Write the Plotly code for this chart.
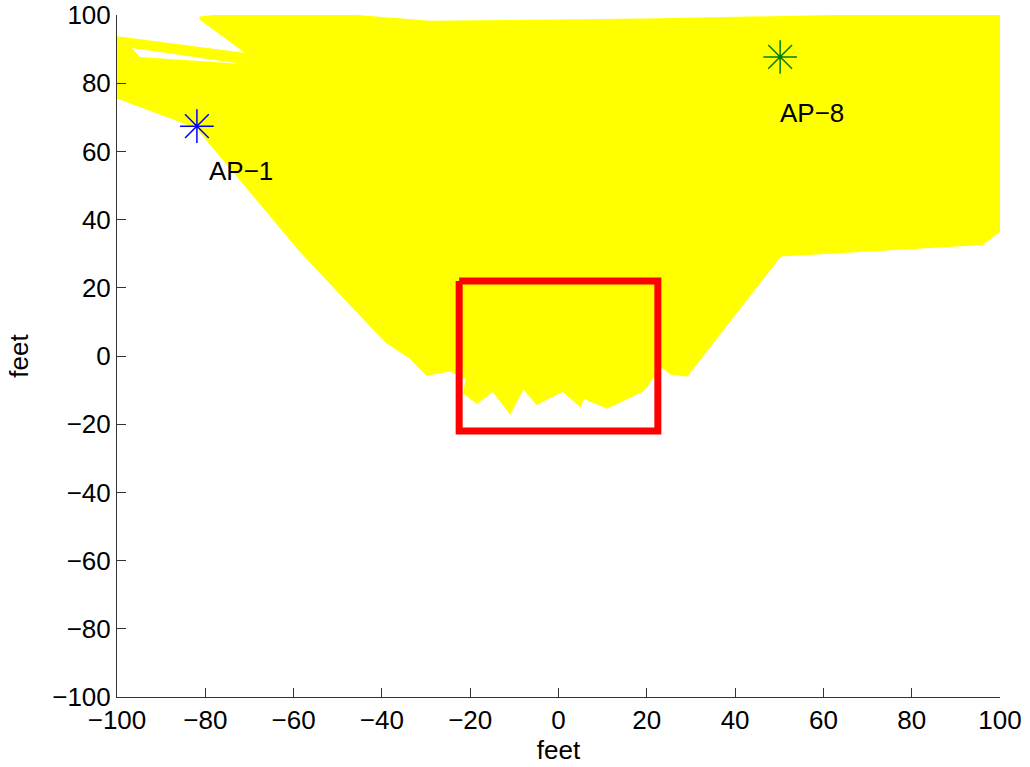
import plotly.graph_objects as go

# ---- data (feet) ----
coverage_x = [-78, -46, -29, 20, 64, 100, 100, 96, 50.2, 29, 25.5, 23.2,
              19.1, 11, 5.5, 4.9, 1, -4.9, -8, -11, -14.8, -18.5, -21.2, -20.7,
              -24.6, -29.8, -33.6, -38.8, -47.2, -58.5, -81.9, -94.8, -100, -100,
              -69.9, -81.2, -78]
coverage_y = [99.6, 99.6, 97.9, 98.5, 99.6, 99.6, 37, 33, 29.6, -5.6, -5.0, -2.8,
              -10, -15, -12, -14.4, -10, -13.8, -9, -16.4, -10, -13.5, -10.9, -6.5,
              -4.1, -5.3, -0.3, 4.1, 15.5, 31.1, 67.2, 73.6, 76, 93.3,
              88.3, 99.1, 99.6]

gap_x = [-96.6, -71.5, -94.8, -96.6]
gap_y = [90.3, 85.6, 87.7, 90.3]

box_x = [-22.5, 22.5, 22.5, -22.5, -22.5]
box_y = [22, 22, -22, -22, 22]

ap_names = ["AP\u22121", "AP\u22128"]
ap_x = [-81.9, 50.2]
ap_y = [67.4, 87.7]
ap_colors = ["#0000ff", "#008000"]
label_x = [-79.6, 49.7]
label_y = [54.3, 71.3]

ticks = [-100, -80, -60, -40, -20, 0, 20, 40, 60, 80, 100]

FONT = "Liberation Sans, Arial, sans-serif"
AXC = "#333333"

fig = go.Figure()
fig.add_trace(go.Scatter(x=coverage_x, y=coverage_y, mode="lines", fill="toself",
                         fillcolor="#ffff00", line=dict(color="#ffff00", width=3),
                         hoverinfo="skip", showlegend=False))
fig.add_trace(go.Scatter(x=gap_x, y=gap_y, mode="lines", fill="toself",
                         fillcolor="#ffffff", line=dict(color="#ffffff", width=0),
                         hoverinfo="skip", showlegend=False))
fig.add_trace(go.Scatter(x=box_x, y=box_y, mode="lines",
                         line=dict(color="#ff0000", width=7),
                         showlegend=False))
for i in range(len(ap_names)):
    fig.add_trace(go.Scatter(x=[ap_x[i]], y=[ap_y[i]], mode="markers",
                             marker=dict(symbol="asterisk", size=28,
                                         line=dict(color=ap_colors[i], width=1.5),
                                         color=ap_colors[i]),
                             showlegend=False))
    fig.add_annotation(x=label_x[i], y=label_y[i], text=ap_names[i],
                       showarrow=False, xanchor="left", yanchor="middle",
                       font=dict(family=FONT, size=26, color="#000000"))

axis_common = dict(range=[-100, 100], tickvals=ticks, showgrid=False, zeroline=False,
                   showline=True, linecolor=AXC, linewidth=1, ticks="inside",
                   ticklen=9, tickcolor=AXC, tickwidth=1, mirror=False,
                   automargin=False,
                   tickfont=dict(family=FONT, size=26, color="#000000"))
fig.update_xaxes(**axis_common, title=dict(text="feet", standoff=4,
                 font=dict(family=FONT, size=26, color="#000000")))
fig.update_yaxes(**axis_common, title=dict(text="feet", standoff=16,
                 font=dict(family=FONT, size=26, color="#000000")))

fig.update_layout(width=1030, height=767, margin=dict(l=117, r=30, t=15, b=70),
                  plot_bgcolor="#ffffff", paper_bgcolor="#ffffff",
                  font=dict(family=FONT, size=26))
fig.write_html("out.html")
